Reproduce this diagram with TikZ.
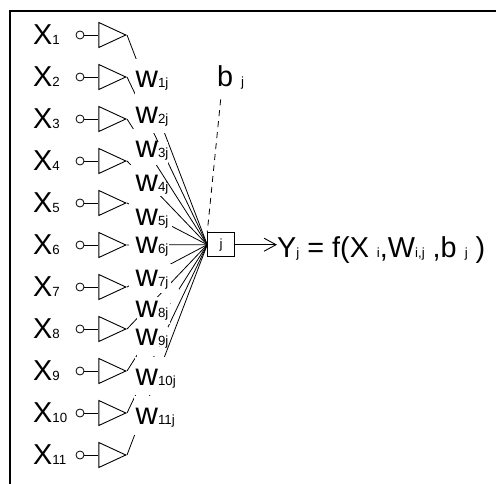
\documentclass[tikz,border=0pt]{standalone}
\usepackage{fontspec}
\setmainfont{Liberation Sans}
\usetikzlibrary{arrows.meta, shapes.geometric}
\newcommand{\bigfs}{\fontsize{28.8}{32}\selectfont}
\newcommand{\subfs}{\fontsize{13.3}{16}\selectfont}
\begin{document}
\begin{tikzpicture}[
  x=1pt, y=-1pt,
  txt/.style={inner sep=0pt, anchor=base west, font=\bigfs},
  wlab/.style={inner sep=0pt, anchor=base west, font=\fontsize{31}{32}\selectfont},
  inp/.style={draw, circle, line width=0.8pt, minimum size=8pt, inner sep=0pt},
  amp/.style={draw, isosceles triangle, isosceles triangle stretches, shape border rotate=0, minimum width=25pt, minimum height=27pt, inner sep=0pt, line width=0.9pt, anchor=apex},
  hubbox/.style={draw, line width=0.9pt, minimum width=26.6pt, minimum height=24pt, inner sep=0pt, font=\subfs},
  wire/.style={line width=0.8pt},
  arr/.style={-{Straight Barb[length=12pt, width=13pt]}, line width=0.9pt},
  darr/.style={dashed, line width=0.8pt, dash pattern=on 6pt off 5pt}
]
  \useasboundingbox (0,0) rectangle (496,484);

  % Frame
  \draw[line width=2pt] (10,484) -- (10,11) -- (496,11);

  % Output unit
  \node[hubbox] (hub) at (221,244.7) {j};
  \coordinate (bjfoot) at (220.7,99.3);

  % Input rows
  \foreach \i in {1,...,11}{
    \pgfmathsetmacro{\ry}{35+42*(\i-1)}
    \pgfmathsetmacro{\rb}{\ry+9.5}
    \node[txt] (x\i) at (33,\rb) {X{\subfs\i}};
    \node[inp] (c\i) at (80,\ry) {};
    \node[amp] (a\i) at (127,\ry) {};
    \draw[wire] (c\i) -- (a\i.lower side);
    \draw[wire] (a\i.apex) -- (hub.west);
  }
  \draw[darr] (bjfoot) -- (hub.north west);

  % White patches under the weights, they break the wires
  \foreach \xa/\ya/\xb/\yb in {
    135/59/153/96, 153/72/163/91,
    135/95/153/133, 153/100/166/133,
    133.4/129/153/165, 153/142/168/165,
    128.5/165/155/196, 155/180/165/196,
    128.5/197/155/235, 155/210/172/235,
    128.5/225/155/263, 155/235/169.3/263,
    128.5/258/155/296, 155/264/170.7/293,
    136.7/288/155/326, 155/297/170/324,
    170/289/179.3/303,
    136.7/317/159/355.6, 155/326.7/168.3/346,
    135/357/170/395,
    134/396.3/175/435}{
    \fill[white] (\xa,\ya) rectangle (\xb,\yb);
  }

  % Weights
  \foreach \i/\wb in {1/87.3,2/124,3/157.7,4/191.7,5/225.5,6/253.5,7/286.7,8/317,9/345.7,10/385,11/424}{
    \node[wlab] (w\i) at (135.5,\wb) {w{\subfs\i j}};
  }

  \node[txt] (bj) at (217,87) {b{\subfs\hspace{8pt}j}};
  \node[txt] (yj) at (277,258) {Y{\subfs j} = f(X {\subfs i},W{\subfs i,j} ,b {\subfs j} )};

  \draw[arr] (hub.east) -- (hub.east -| yj.west);
\end{tikzpicture}
\end{document}
